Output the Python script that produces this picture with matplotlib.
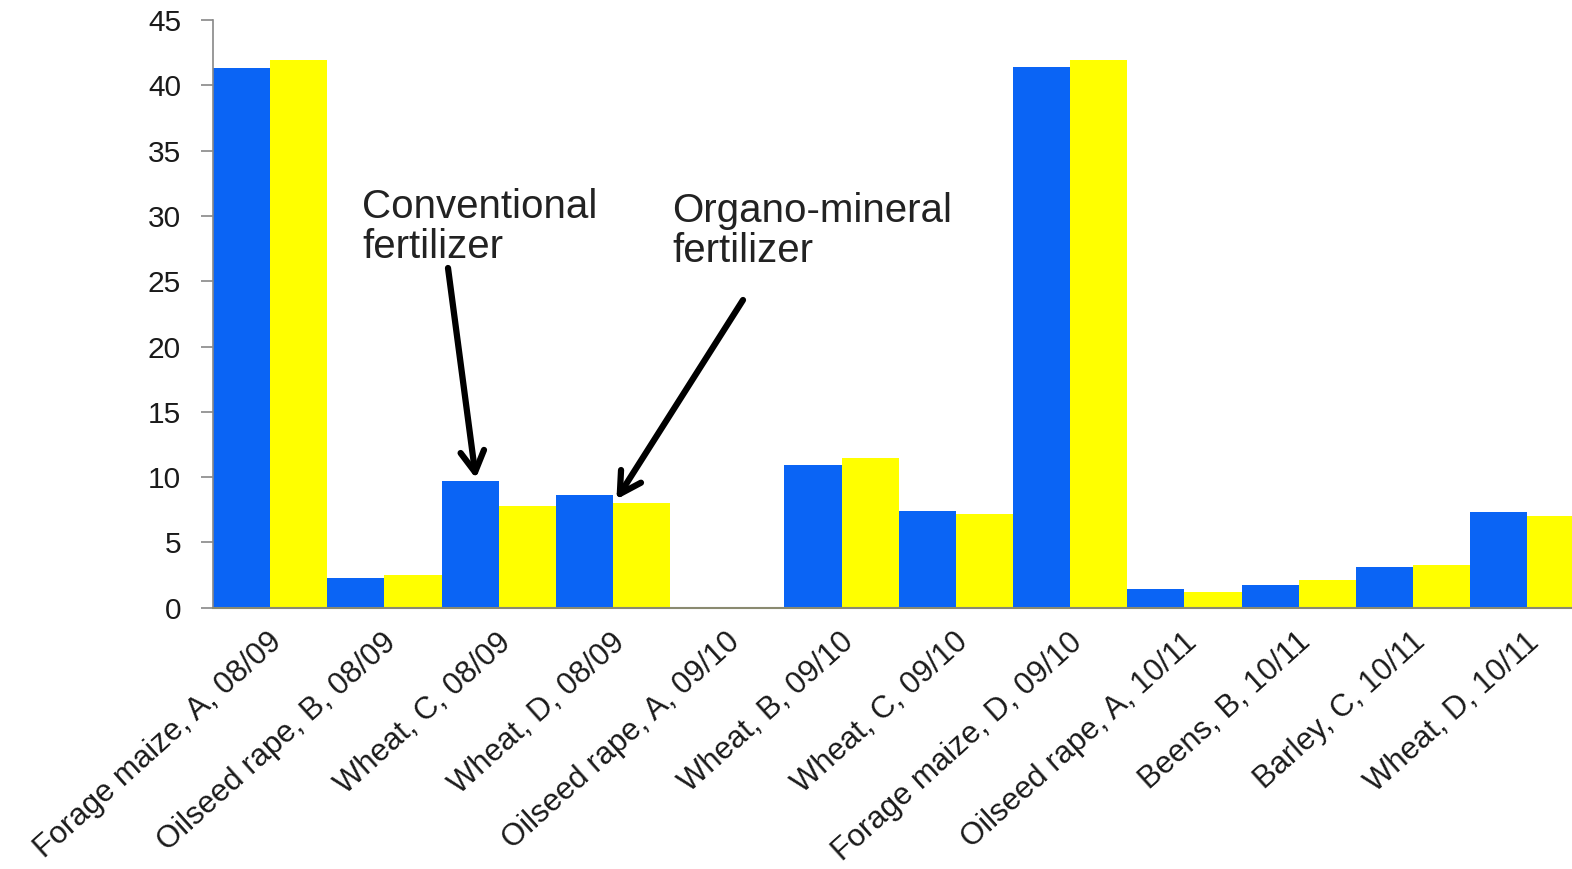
import matplotlib
matplotlib.use("Agg")
import matplotlib.pyplot as plt
import matplotlib.transforms as mtransforms
import numpy as np

plt.rcParams['font.family'] = ['Liberation Sans', 'DejaVu Sans']

categories = ["Forage maize, A, 08/09", "Oilseed rape, B, 08/09", "Wheat, C, 08/09",
              "Wheat, D, 08/09", "Oilseed rape, A, 09/10", "Wheat, B, 09/10",
              "Wheat, C, 09/10", "Forage maize, D, 09/10", "Oilseed rape, A, 10/11",
              "Beens, B, 10/11", "Barley, C, 10/11", "Wheat, D, 10/11"]
conventional = [41.3, 2.3, 9.7, 8.6, 0.0, 10.9, 7.4, 41.4, 1.4, 1.7, 3.1, 7.3]
organo_mineral = [41.9, 2.5, 7.8, 8.0, 0.0, 11.5, 7.2, 41.9, 1.2, 2.1, 3.3, 7.0]
yticks = [0, 5, 10, 15, 20, 25, 30, 35, 40, 45]

fig = plt.figure(figsize=(15.72, 8.69), dpi=100)
ax = fig.add_axes([213/1572, 261.3/869, 1371.5/1572, 587.7/869])

x = np.arange(len(categories))
w = 0.5
ax.bar(x - w/2, conventional, width=w, color='#0A64F5', edgecolor='none')
ax.bar(x + w/2, organo_mineral, width=w, color='#FFFF00', edgecolor='none')

ax.set_xlim(-0.5, len(categories) - 0.5)
ax.set_ylim(0, 45)
ax.set_yticks(yticks)
ax.set_yticklabels([str(t) for t in yticks], fontsize=21.5, color='#1a1a1a')
ax.set_xticks(x)
ax.set_xticklabels(categories, rotation=42, ha='right', rotation_mode='anchor',
                   fontsize=22.3, color='#1a1a1a')
ax.tick_params(axis='x', length=0, pad=14)
ax.tick_params(axis='y', length=9, width=1.2, color='#888888', pad=14)
offset = mtransforms.ScaledTranslation(-2/100, 0, fig.dpi_scale_trans)
for lbl in ax.get_xticklabels():
    lbl.set_transform(lbl.get_transform() + offset)
for s in ['top', 'right']:
    ax.spines[s].set_visible(False)
ax.spines['left'].set_color('#888888')
ax.spines['left'].set_linewidth(1.2)
ax.spines['bottom'].set_color('#8a8a70')
ax.spines['bottom'].set_linewidth(1.5)

def px2data(px, py):
    return ax.transData.inverted().transform((px, 869 - py))

fig.canvas.draw()
tkw = dict(fontsize=29, va='baseline', ha='left', color='#222222')
ax.text(*px2data(362, 218), "Conventional", **tkw)
ax.text(*px2data(362, 258), "fertilizer", **tkw)
ax.text(*px2data(672, 222), "Organo-mineral", **tkw)
ax.text(*px2data(672, 262), "fertilizer", **tkw)
arrowprops = dict(arrowstyle='->,head_length=1.5,head_width=0.85', lw=4.5, color='black',
                  shrinkA=0, shrinkB=0)
ax.annotate("", xy=(2 - w/2 + 0.05, conventional[2] + 0.2), xytext=px2data(448, 268),
            arrowprops=arrowprops)
ax.annotate("", xy=(3 + w/2 - 0.22, organo_mineral[3] + 0.3), xytext=px2data(743, 300),
            arrowprops=arrowprops)

fig.savefig("out.png", dpi=100)
